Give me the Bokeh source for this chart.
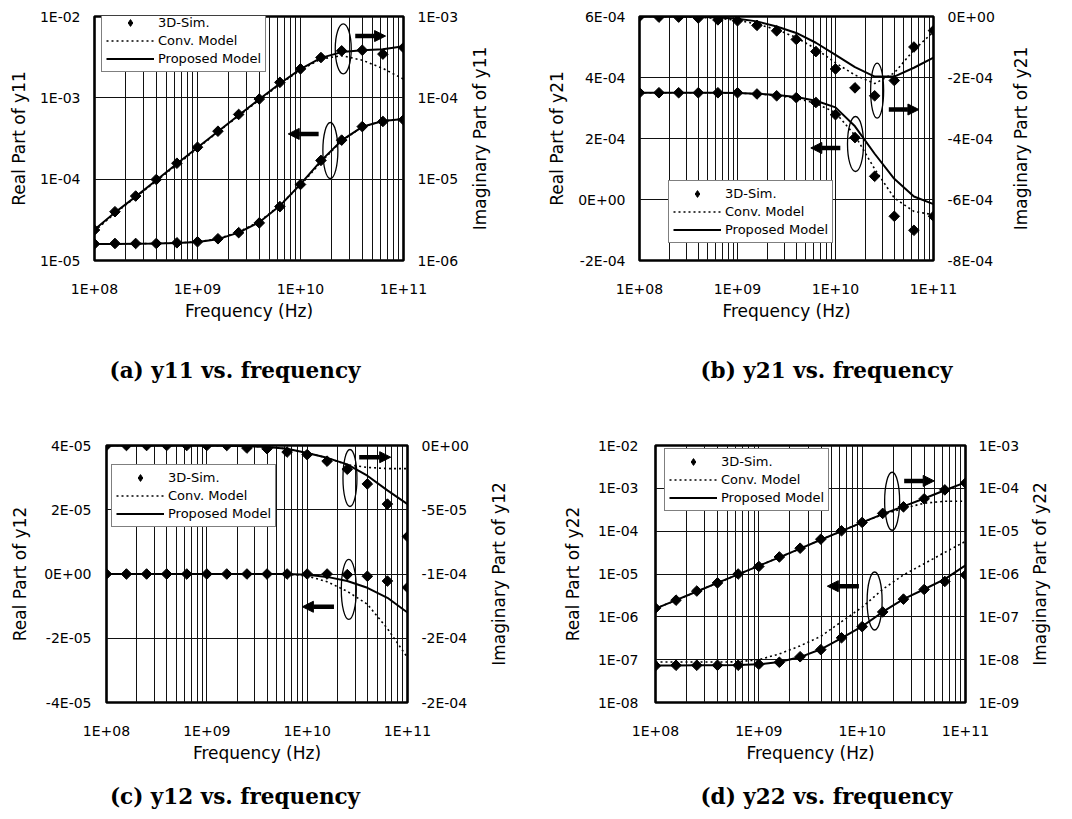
import math
from bokeh.plotting import figure
from bokeh.models import (Range1d, LogScale, LinearScale, LogAxis, LinearAxis,
                          FixedTicker, Legend, LegendItem, Arrow, NormalHead)
from bokeh.layouts import column, row
from bokeh.embed import file_html
from bokeh.resources import INLINE

# ---------------- data ----------------
freq = [1.0e8, 1.58e8, 2.51e8, 3.98e8, 6.31e8, 1.0e9, 1.58e9, 2.51e9, 3.98e9,
        6.31e9, 1.0e10, 1.58e10, 2.51e10, 3.98e10, 6.31e10, 1.0e11]

x_ticks = [1e8, 1e9, 1e10, 1e11]
x_tick_labels = ["1E+08", "1E+09", "1E+10", "1E+11"]
x_minor = [m * 10.0 ** e for e in (8, 9, 10) for m in range(2, 10)]

# (a) y11
re_sim_a = [1.60e-5, 1.62e-5, 1.62e-5, 1.62e-5, 1.65e-5, 1.70e-5, 1.85e-5, 2.20e-5, 2.90e-5, 4.60e-5, 8.60e-5, 1.70e-4, 3.02e-4, 4.43e-4, 5.12e-4, 5.36e-4]
re_conv_a = [1.60e-5, 1.60e-5, 1.61e-5, 1.62e-5, 1.64e-5, 1.70e-5, 1.85e-5, 2.25e-5, 3.00e-5, 4.80e-5, 8.40e-5, 1.62e-4, 2.95e-4, 4.40e-4, 5.20e-4, 5.50e-4]
re_prop_a = [1.60e-5, 1.60e-5, 1.61e-5, 1.62e-5, 1.64e-5, 1.69e-5, 1.83e-5, 2.20e-5, 2.95e-5, 4.70e-5, 8.70e-5, 1.68e-4, 3.00e-4, 4.40e-4, 5.20e-4, 5.50e-4]
im_sim_a = [2.37e-6, 3.98e-6, 6.20e-6, 9.90e-6, 1.57e-5, 2.47e-5, 3.89e-5, 6.25e-5, 9.66e-5, 1.55e-4, 2.27e-4, 3.13e-4, 3.78e-4, 3.85e-4, 3.45e-4, 4.14e-4]
im_conv_a = [2.30e-6, 3.80e-6, 6.00e-6, 9.50e-6, 1.50e-5, 2.40e-5, 3.80e-5, 6.00e-5, 9.40e-5, 1.47e-4, 2.20e-4, 3.00e-4, 3.30e-4, 2.90e-4, 2.30e-4, 1.70e-4]
im_prop_a = [2.40e-6, 3.90e-6, 6.10e-6, 9.70e-6, 1.55e-5, 2.45e-5, 3.85e-5, 6.10e-5, 9.60e-5, 1.50e-4, 2.25e-4, 3.10e-4, 3.65e-4, 3.85e-4, 3.95e-4, 4.30e-4]
left_ticks_a = [1e-5, 1e-4, 1e-3, 1e-2]
left_labels_a = ["1E-05", "1E-04", "1E-03", "1E-02"]
right_ticks_a = [1e-6, 1e-5, 1e-4, 1e-3]
right_labels_a = ["1E-06", "1E-05", "1E-04", "1E-03"]

# (b) y21
re_sim_b = [3.50e-4, 3.50e-4, 3.50e-4, 3.50e-4, 3.50e-4, 3.50e-4, 3.46e-4, 3.40e-4, 3.34e-4, 3.18e-4, 2.78e-4, 2.03e-4, 7.6e-5, -5.5e-5, -1.01e-4, -5.5e-5]
re_conv_b = [3.50e-4, 3.50e-4, 3.50e-4, 3.50e-4, 3.50e-4, 3.49e-4, 3.46e-4, 3.41e-4, 3.32e-4, 3.15e-4, 2.85e-4, 2.10e-4, 1.00e-4, 5e-6, -3.9e-5, -5.0e-5]
re_prop_b = [3.50e-4, 3.50e-4, 3.50e-4, 3.50e-4, 3.50e-4, 3.49e-4, 3.47e-4, 3.43e-4, 3.36e-4, 3.24e-4, 3.02e-4, 2.40e-4, 1.50e-4, 6.8e-5, 1.0e-5, -1.5e-5]
im_sim_b = [0.0, -2e-6, -2e-6, -5e-6, -1.1e-5, -1.4e-5, -2.9e-5, -4.7e-5, -7.5e-5, -1.15e-4, -1.72e-4, -2.34e-4, -2.60e-4, -2.10e-4, -1.00e-4, -4.6e-5]
im_conv_b = [0.0, 0.0, -1e-6, -3e-6, -6e-6, -1.2e-5, -2.5e-5, -4.3e-5, -6.9e-5, -1.06e-4, -1.52e-4, -1.92e-4, -2.20e-4, -1.85e-4, -1.10e-4, -5.0e-5]
im_prop_b = [0.0, 0.0, 0.0, -1e-6, -3e-6, -7e-6, -1.6e-5, -3.3e-5, -5.4e-5, -8.6e-5, -1.26e-4, -1.66e-4, -1.97e-4, -1.97e-4, -1.68e-4, -1.35e-4]
left_ticks_b = [-2e-4, 0.0, 2e-4, 4e-4, 6e-4]
left_labels_b = ["-2E-04", "0E+00", "2E-04", "4E-04", "6E-04"]
right_ticks_b = [-8e-4, -6e-4, -4e-4, -2e-4, 0.0]
right_labels_b = ["-8E-04", "-6E-04", "-4E-04", "-2E-04", "0E+00"]

# (c) y12
re_sim_c = [0.0, 0.0, 0.0, 0.0, 0.0, 0.0, 0.0, 0.0, 0.0, 0.0, 0.0, 0.0, -2e-7, -7e-7, -2.2e-6, -4.2e-6]
re_conv_c = [0.0, 0.0, 0.0, 0.0, 0.0, 0.0, 0.0, 0.0, 0.0, -1e-7, -6e-7, -2.4e-6, -5.4e-6, -9.4e-6, -1.7e-5, -2.6e-5]
re_prop_c = [0.0, 0.0, 0.0, 0.0, 0.0, 0.0, 0.0, 0.0, 0.0, 0.0, -2e-7, -9e-7, -2.2e-6, -4.3e-6, -7.4e-6, -1.2e-5]
im_sim_c = [0.0, 0.0, 0.0, 0.0, 0.0, 0.0, 0.0, -2e-6, -2.5e-6, -5.1e-6, -7.1e-6, -1.22e-5, -1.85e-5, -2.99e-5, -4.56e-5, -7.09e-5]
im_conv_c = [0.0, 0.0, 0.0, 0.0, 0.0, 0.0, -2e-7, -5e-7, -1.2e-6, -2.5e-6, -5.8e-6, -9.6e-6, -1.5e-5, -1.7e-5, -1.8e-5, -1.8e-5]
im_prop_c = [0.0, 0.0, 0.0, 0.0, 0.0, 0.0, -2e-7, -5e-7, -1.2e-6, -2.5e-6, -5.8e-6, -9.6e-6, -1.47e-5, -2.35e-5, -3.49e-5, -4.56e-5]
left_ticks_c = [-4e-5, -2e-5, 0.0, 2e-5, 4e-5]
left_labels_c = ["-4E-05", "-2E-05", "0E+00", "2E-05", "4E-05"]
right_ticks_c = [-2e-4, -1.5e-4, -1e-4, -5e-5, 0.0]
right_labels_c = ["-2E-04", "-2E-04", "-1E-04", "-5E-05", "0E+00"]

# (d) y22
re_sim_d = [7.2e-8, 7.4e-8, 7.4e-8, 7.4e-8, 7.4e-8, 7.8e-8, 8.7e-8, 1.17e-7, 1.71e-7, 3.24e-7, 5.9e-7, 1.30e-6, 2.59e-6, 4.35e-6, 6.7e-6, 9.5e-6]
re_conv_d = [8.8e-8, 8.8e-8, 8.8e-8, 8.8e-8, 8.9e-8, 1.0e-7, 1.36e-7, 2.1e-7, 3.5e-7, 7.7e-7, 1.68e-6, 4.4e-6, 9.5e-6, 1.74e-5, 3.2e-5, 5.8e-5]
re_prop_d = [7.3e-8, 7.3e-8, 7.4e-8, 7.4e-8, 7.5e-8, 7.8e-8, 8.8e-8, 1.15e-7, 1.75e-7, 3.2e-7, 6.0e-7, 1.3e-6, 2.6e-6, 4.4e-6, 7.6e-6, 1.6e-5]
im_sim_d = [1.6e-7, 2.45e-7, 4.0e-7, 6.2e-7, 1.0e-6, 1.5e-6, 2.5e-6, 4.0e-6, 6.5e-6, 1.02e-5, 1.6e-5, 2.6e-5, 3.7e-5, 5.7e-5, 9.2e-5, 1.33e-4]
im_conv_d = [1.55e-7, 2.45e-7, 3.9e-7, 6.2e-7, 9.8e-7, 1.55e-6, 2.45e-6, 3.9e-6, 6.3e-6, 1.0e-5, 1.6e-5, 2.45e-5, 3.4e-5, 4.5e-5, 5.0e-5, 5.0e-5]
im_prop_d = [1.55e-7, 2.45e-7, 3.9e-7, 6.2e-7, 9.8e-7, 1.55e-6, 2.45e-6, 3.9e-6, 6.3e-6, 1.0e-5, 1.6e-5, 2.5e-5, 3.8e-5, 5.8e-5, 9.0e-5, 1.38e-4]
left_ticks_d = [1e-8, 1e-7, 1e-6, 1e-5, 1e-4, 1e-3, 1e-2]
left_labels_d = ["1E-08", "1E-07", "1E-06", "1E-05", "1E-04", "1E-03", "1E-02"]
right_ticks_d = [1e-9, 1e-8, 1e-7, 1e-6, 1e-5, 1e-4, 1e-3]
right_labels_d = ["1E-09", "1E-08", "1E-07", "1E-06", "1E-05", "1E-04", "1E-03"]

legend_labels = ["3D-Sim.", "Conv. Model", "Proposed Model"]

FONT = "DejaVu Sans"
CAP_FONT = "DejaVu Serif"


def style_axis(ax, standoff, label_standoff):
    ax.major_tick_line_color = None
    ax.minor_tick_line_color = None
    ax.major_tick_out = 0
    ax.major_tick_in = 0
    ax.minor_tick_out = 0
    ax.minor_tick_in = 0
    ax.axis_line_color = None
    ax.major_label_standoff = standoff
    ax.major_label_text_font = FONT
    ax.major_label_text_font_size = "14px"
    ax.major_label_text_color = "black"
    ax.axis_label_text_font = FONT
    ax.axis_label_text_font_size = "17px"
    ax.axis_label_text_font_style = "normal"
    ax.axis_label_text_color = "black"
    ax.axis_label_standoff = label_standoff


def blank_fig(width, height, borders):
    bl, br, bt, bb = borders
    f = figure(width=width, height=height, output_backend="svg", toolbar_location=None,
               title=None, x_axis_location=None, y_axis_location=None,
               x_range=Range1d(0, 1), y_range=Range1d(0, 1),
               min_border_left=bl, min_border_right=br, min_border_top=bt, min_border_bottom=bb,
               outline_line_color=None, background_fill_color="white",
               border_fill_color="white")
    f.grid.visible = False
    return f


def text_axis(text, font, size, style):
    ax = LinearAxis(ticker=FixedTicker(ticks=[]), axis_label=text)
    style_axis(ax, 0, 0)
    ax.axis_label_text_font = font
    ax.axis_label_text_font_size = size
    ax.axis_label_text_font_style = style
    return ax


def side_title(text, width, height, borders):
    # rotated title (reads bottom-to-top) shown right of a panel
    f = blank_fig(width, height, borders)
    f.add_layout(text_axis(text, FONT, "17px", "normal"), "left")
    return f


def caption_fig(text, width, height, borders):
    f = blank_fig(width, height, borders)
    f.add_layout(text_axis(text, CAP_FONT, "21.5px", "bold"), "below")
    return f


def make_panel(y_log, left_rng, right_rng,
               left_ticks, left_labels, right_ticks, right_labels, left_title,
               real, imag, size, borders, standoffs, legend_xy,
               ell_re, ell_im, arr_re, arr_im):
    bl, br, bt, bb = borders
    w, h = size
    p = figure(width=w, height=h, x_axis_type="log",
               y_axis_type="log" if y_log else "linear",
               x_range=Range1d(1e8, 1e11), y_range=Range1d(*left_rng),
               output_backend="svg", toolbar_location=None, title=None,
               min_border_left=bl, min_border_right=br, min_border_top=bt, min_border_bottom=bb,
               background_fill_color="white", border_fill_color="white",
               outline_line_color="black", outline_line_width=2.6)
    p.extra_y_ranges = {"im": Range1d(*right_rng)}
    p.extra_y_scales = {"im": LogScale() if y_log else LinearScale()}

    # x axis
    xt = FixedTicker(ticks=x_ticks, minor_ticks=x_minor)
    xax = p.xaxis[0]
    xax.ticker = xt
    xax.major_label_overrides = dict(zip(x_ticks, x_tick_labels))
    xax.axis_label = "Frequency (Hz)"
    style_axis(xax, 20, 1)
    p.xgrid.ticker = xt
    p.xgrid.grid_line_color = "#111111"
    p.xgrid.grid_line_width = 1
    p.xgrid.minor_grid_line_color = "#111111"
    p.xgrid.minor_grid_line_width = 1

    # left axis
    ls, lls, rs = standoffs
    yt = FixedTicker(ticks=left_ticks)
    yax = p.yaxis[0]
    yax.ticker = yt
    yax.major_label_overrides = dict(zip(left_ticks, left_labels))
    yax.axis_label = left_title
    style_axis(yax, ls, lls)
    p.ygrid.ticker = yt
    p.ygrid.grid_line_color = "#111111"
    p.ygrid.grid_line_width = 1
    p.ygrid.minor_grid_line_color = None

    # right axis
    AxisCls = LogAxis if y_log else LinearAxis
    rax = AxisCls(y_range_name="im", ticker=FixedTicker(ticks=right_ticks))
    rax.major_label_overrides = dict(zip(right_ticks, right_labels))
    style_axis(rax, rs, 0)
    p.add_layout(rax, "right")

    sim_r, conv_r, prop_r = real
    sim_i, conv_i, prop_i = imag
    # real part (left axis)
    p.line(freq, prop_r, line_color="black", line_width=2)
    p.line(freq, conv_r, line_color="black", line_width=1.6, line_dash="2 3")
    p.scatter(freq, sim_r, marker="square", angle=math.pi / 4, size=7.5,
              fill_color="black", line_color="black")
    # imaginary part (right axis)
    r_prop = p.line(freq, prop_i, line_color="black", line_width=2, y_range_name="im")
    r_conv = p.line(freq, conv_i, line_color="black", line_width=1.6, line_dash="2 3",
                    y_range_name="im")
    p.scatter(freq, sim_i, marker="square", angle=math.pi / 4, size=7.5,
              fill_color="black", line_color="black", y_range_name="im")
    # legend-only diamond (same data, hidden in plot)
    r_leg = p.scatter(freq, sim_i, marker="diamond", size=12, fill_color="black",
                      line_color="black", y_range_name="im", visible=False)

    # annotations: ellipses and arrows
    (ex, ey, ew, eh) = ell_re
    p.ellipse(x=[ex], y=[ey], width=ew, height=eh, width_units="screen",
              height_units="screen", fill_color=None, line_color="black", line_width=1.3)
    (ex, ey, ew, eh) = ell_im
    p.ellipse(x=[ex], y=[ey], width=ew, height=eh, width_units="screen",
              height_units="screen", fill_color=None, line_color="black", line_width=1.3,
              y_range_name="im")
    (x0, x1, ya) = arr_re
    p.add_layout(Arrow(end=NormalHead(size=11, fill_color="black", line_color="black"),
                       x_start=x0, y_start=ya, x_end=x1, y_end=ya,
                       line_width=4.5, line_color="black"))
    (x0, x1, ya) = arr_im
    p.add_layout(Arrow(end=NormalHead(size=11, fill_color="black", line_color="black"),
                       x_start=x0, y_start=ya, x_end=x1, y_end=ya,
                       line_width=4.5, line_color="black", y_range_name="im"))

    leg = Legend(items=[LegendItem(label=legend_labels[0], renderers=[r_leg]),
                        LegendItem(label=legend_labels[1], renderers=[r_conv]),
                        LegendItem(label=legend_labels[2], renderers=[r_prop])],
                 location=legend_xy, orientation="vertical",
                 border_line_color="black", border_line_width=1,
                 background_fill_color="white", background_fill_alpha=1.0,
                 glyph_width=48, glyph_height=17, label_height=17, label_standoff=4,
                 spacing=1, padding=4, margin=0,
                 label_text_font=FONT, label_text_font_size="13px", label_text_color="black")
    p.add_layout(leg)
    return p


pa = make_panel(True, (1e-5, 1e-2), (1e-6, 1e-3),
                left_ticks_a, left_labels_a, right_ticks_a, right_labels_a, "Real Part of y11",
                (re_sim_a, re_conv_a, re_prop_a), (im_sim_a, im_conv_a, im_prop_a),
                (466, 330), (94, 63, 13, 63), (14, 8, 14), (7, 188),
                (1.95e10, 2.25e-4, 15, 56), (2.6e10, 4.0e-4, 16, 50),
                (1.5e10, 7.6e9, 3.6e-4), (3.4e10, 6.7e10, 5.75e-4))
ta = side_title("Imaginary Part of y11", 70, 330, (21, 0, 16, 60))

pb = make_panel(False, (-2e-4, 6e-4), (-8e-4, 0.0),
                left_ticks_b, left_labels_b, right_ticks_b, right_labels_b, "Real Part of y21",
                (re_sim_b, re_conv_b, re_prop_b), (im_sim_b, im_conv_b, im_prop_b),
                (470, 330), (103, 73, 12, 70), (14, 8, 14), (29, 17),
                (1.6e10, 1.82e-4, 16, 55), (2.66e10, -2.43e-4, 13, 55),
                (1.12e10, 5.6e9, 1.69e-4), (3.5e10, 7.1e10, -3.05e-4))
tb = side_title("Imaginary Part of y21", 64, 330, (24, 0, 16, 66))

pc = make_panel(False, (-4e-5, 4e-5), (-2e-4, 0.0),
                left_ticks_c, left_labels_c, right_ticks_c, right_labels_c, "Real Part of y12",
                (re_sim_c, re_conv_c, re_prop_c), (im_sim_c, im_conv_c, im_prop_c),
                (480, 348), (106, 73, 23, 62), (15, 11, 14), (5, 175),
                (2.6e10, -4.8e-6, 15, 60), (2.67e10, -2.53e-5, 14, 57),
                (1.85e10, 8.96e9, -1.02e-5), (3.3e10, 6.8e10, -9.1e-6))
tc = side_title("Imaginary Part of y12", 56, 348, (28, 0, 27, 58))

pd_ = make_panel(True, (1e-8, 1e-2), (1e-9, 1e-3),
                 left_ticks_d, left_labels_d, right_ticks_d, right_labels_d, "Real Part of y22",
                 (re_sim_d, re_conv_d, re_prop_d), (im_sim_d, im_conv_d, im_prop_d),
                 (490, 348), (119, 61, 24, 63), (17, 12, 13), (9, 191),
                 (1.32e10, 2.34e-6, 15, 58), (1.95e10, 5.0e-5, 15, 58),
                 (9.3e9, 4.6e9, 5.2e-6), (2.55e10, 4.98e10, 1.49e-4))
td = side_title("Imaginary Part of y22", 44, 348, (22, 0, 22, 64))

ca = caption_fig("(a) y11 vs. frequency", 536, 88, (109, 176, 0, 61))
cb = caption_fig("(b) y21 vs. frequency", 534, 88, (163, 117, 0, 61))
cc = caption_fig("(c) y12 vs. frequency", 536, 51, (109, 176, 0, 34))
cd = caption_fig("(d) y22 vs. frequency", 534, 51, (163, 117, 0, 34))

layout = column(row(pa, ta, pb, tb), row(ca, cb), row(pc, tc, pd_, td), row(cc, cd))

with open("out.html", "w") as f:
    f.write(file_html(layout, INLINE))
